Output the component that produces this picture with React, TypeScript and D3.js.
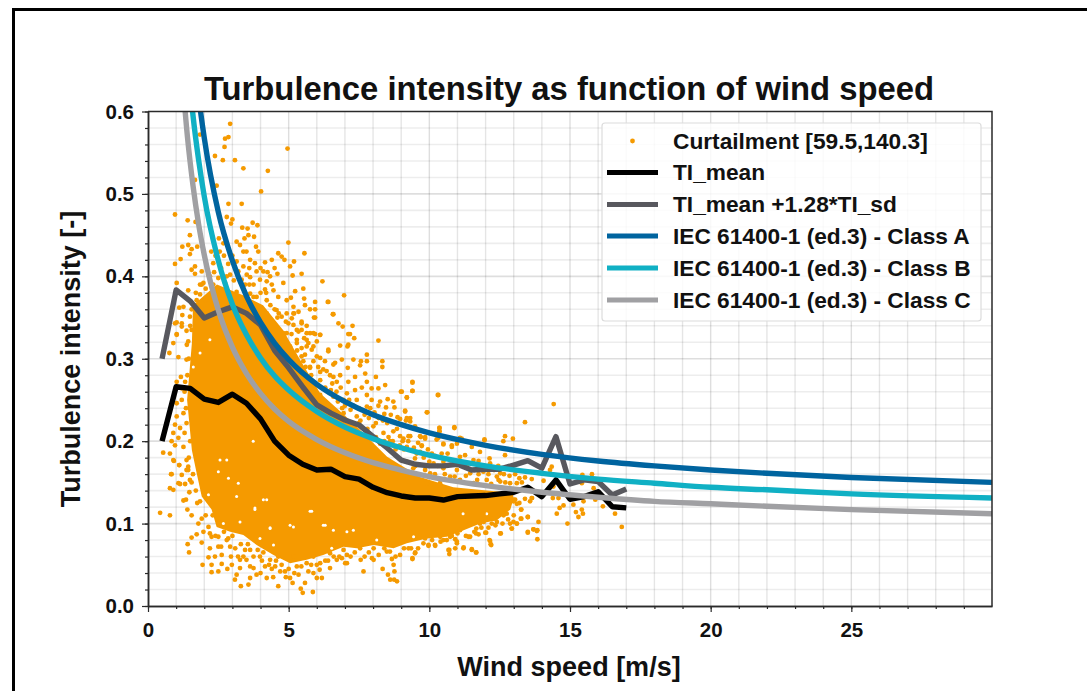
import React, { useEffect, useRef } from "react";
import * as d3 from "d3";

const xTicks = [0, 5, 10, 15, 20, 25];
const yTicks = [0, 0.1, 0.2, 0.3, 0.4, 0.5, 0.6];
const xMinor = d3.range(0, 30, 1);
const yMinor = d3.range(0, 31).map((i) => i / 50);

const legendLabels = [
  "Curtailment [59.5,140.3]",
  "TI_mean",
  "TI_mean +1.28*TI_sd",
  "IEC 61400-1 (ed.3) - Class A",
  "IEC 61400-1 (ed.3) - Class B",
  "IEC 61400-1 (ed.3) - Class C",
];

const binSpeeds = [0.5,1,1.5,2,2.5,3,3.5,4,4.5,5,5.5,6,6.5,7,7.5,8,8.5,9,9.5,10,10.5,11,11.5,12,12.5,13,13.5,14,14.5,15,15.5,16,16.5,17];
const tiMean = [0.2,0.266,0.264,0.251,0.247,0.257,0.246,0.227,0.2,0.183,0.172,0.165,0.166,0.157,0.154,0.144,0.1375,0.1335,0.131,0.131,0.1286,0.1327,0.1335,0.134,0.136,0.138,0.144,0.1327,0.153,0.1295,0.1327,0.1387,0.1205,0.119];
const tiUpper = [0.3,0.3835,0.37,0.3495,0.357,0.363,0.355,0.341,0.31,0.289,0.266,0.244,0.234,0.2257,0.2197,0.2055,0.1917,0.177,0.172,0.17,0.17,0.172,0.165,0.166,0.166,0.171,0.1764,0.1673,0.2055,0.148,0.153,0.151,0.1347,0.142];

const iecASpeeds = [1.6,1.8,2,2.5,3,3.5,4,4.5,5,6,7,8,9,10,12,14,16,18,20,22,25,30];
const iecA = [0.68,0.618,0.568,0.478,0.419,0.376,0.344,0.319,0.299,0.269,0.248,0.232,0.22,0.21,0.195,0.184,0.176,0.17,0.165,0.161,0.156,0.15];
const iecBSpeeds = [1.4,1.6,1.8,2,2.5,3,3.5,4,4.5,5,6,7,8,9,10,12,14,16,18,20,22,25,30];
const iecB = [0.665,0.595,0.541,0.497,0.419,0.366,0.329,0.301,0.279,0.262,0.236,0.217,0.203,0.192,0.183,0.17,0.161,0.154,0.149,0.144,0.141,0.136,0.131];
const iecCSpeeds = [1.2,1.4,1.6,1.8,2,2.5,3,3.5,4,4.5,5,6,7,8,9,10,12,14,16,18,20,22,25,30];
const iecC = [0.65,0.57,0.51,0.463,0.426,0.359,0.314,0.282,0.258,0.239,0.224,0.202,0.186,0.174,0.165,0.157,0.146,0.138,0.132,0.127,0.124,0.121,0.117,0.112];

// The saturated heart of the scatter, where individual dots can no longer be read.
const denseCore: [number, number][] = [
  [1.56,0.319],[1.6,0.365],[2.45,0.39],[3.38,0.377],[4.09,0.365],[4.8,0.335],[5.4,0.299],[6.12,0.258],[7.29,0.222],[8.5,0.181],[9.67,0.1566],[10.85,0.144],[12.98,0.137],
  [12.98,0.129],[12.88,0.117],[12.4,0.104],[11.81,0.1],[11.22,0.092],[10.62,0.084],[9.91,0.082],[9.2,0.076],[8.73,0.07],[8.02,0.074],[7.42,0.07],[6.95,0.072],[6.23,0.062],[5.64,0.056],[5.05,0.052],[4.46,0.062],[3.86,0.074],[3.39,0.086],[2.92,0.09],[2.44,0.096],[2.26,0.117],[1.91,0.133],[1.73,0.161],[1.56,0.189],[1.39,0.25],
];

// Small gaps left between dots inside the saturated heart.
const coreGaps: [number, number][] = [
  [4.34,0.094],[3.8,0.119],[2.56,0.177],[2.8,0.177],[3.74,0.2],[3.15,0.133],[4.1,0.129],[5.17,0.096],[6.23,0.098],[6.59,0.092],[5.82,0.115],[7.3,0.092],[8.13,0.08],[9.44,0.084],[11.2,0.112],[12.04,0.112],[1.85,0.307],[2.2,0.323],[1.61,0.29],
  [4.34,0.095],[2.68,0.1],[3.27,0.102],[3.8,0.117],[2.15,0.135],[4.46,0.074],[3.98,0.082],[3.21,0.149],[2.86,0.155],[2.5,0.163],[4.22,0.129],[5.05,0.098],[5.76,0.115],[6.3,0.098],[7.07,0.09],[6.53,0.07],
];

// Dots read individually from the fringe of the cloud.
const upperFringe: [number, number][] = [
  [2.92,0.585],[1.85,0.572],[2.86,0.569],[2.74,0.567],[2.72,0.557],[4.96,0.555],[2.38,0.546],[2.66,0.541],[3.09,0.541],[3.39,0.531],[4.26,0.528],[1.67,0.517],[2.44,0.51],[4.02,0.503],
  [0.96,0.475],[1.41,0.468],[2.86,0.488],[3.33,0.488],[1.69,0.466],[2.8,0.472],[3.0,0.469],[2.95,0.464],[3.72,0.465],[3.89,0.462],[3.35,0.459],[3.54,0.458],[1.49,0.45],[3.57,0.45],[3.43,0.446],[3.77,0.448],[2.52,0.446],[2.68,0.44],[3.15,0.442],[3.27,0.438],[4.99,0.441],[1.22,0.436],[1.43,0.438],[1.55,0.433],[1.49,0.427],[1.75,0.436],[3.39,0.43],[3.84,0.436],[3.92,0.43],[4.63,0.428],[4.75,0.424],[5.56,0.428],[4.85,0.42],[5.19,0.418],[4.16,0.417],[1.16,0.421],[0.96,0.415],[5.05,0.412],[5.46,0.403],[5.14,0.401],[4.6,0.403],[4.1,0.406],[4.34,0.4],[6.2,0.394],[1.02,0.392],[1.67,0.412],[1.55,0.408],[1.91,0.406],[1.67,0.403],[2.32,0.416],[3.15,0.418],[3.63,0.42],[3.8,0.416],[3.39,0.412],[3.86,0.406],[3.63,0.399],[4.22,0.394],[4.81,0.392],[4.46,0.383],[5.23,0.382],[5.52,0.385],[5.08,0.374],[5.55,0.373],[5.58,0.365],[5.94,0.369],[6.41,0.369],[6.97,0.377],[5.76,0.36],[5.94,0.36],[6.57,0.354],[5.94,0.35],[5.19,0.355],[5.35,0.357],[5.11,0.349],[6.77,0.343],[6.92,0.339],[7.12,0.33],[5.64,0.34],[6.12,0.329],[5.94,0.33],[6.83,0.316],[7.12,0.317],[1.43,0.383],[1.91,0.39],[1.26,0.363],[1.11,0.362],[1.22,0.353],[1.2,0.339],[1.02,0.344],[1.37,0.334],[1.55,0.335],[1.02,0.329],[0.9,0.319],[1.38,0.317],
  [2.5,0.398],[2.74,0.392],[2.92,0.402],[3.21,0.406],[3.33,0.396],[3.51,0.402],[3.75,0.39],[3.98,0.396],[4.16,0.384],[4.4,0.39],[4.63,0.375],[4.93,0.371],[5.17,0.363],[4.57,0.359],[4.75,0.351],[4.22,0.371],[3.86,0.375],[3.63,0.379],[3.15,0.381],[2.8,0.379],[2.62,0.383],[2.32,0.39],[2.14,0.402],[1.97,0.392],[1.85,0.378],[1.73,0.371],[2.03,0.371],[4.93,0.355],[5.17,0.341],[5.35,0.333],[4.93,0.331],[5.64,0.323],[5.29,0.319],[5.88,0.315],[4.22,0.355],[3.63,0.363],[3.09,0.371],
  [5.17,0.355],[5.46,0.343],[5.29,0.335],[5.76,0.331],[4.99,0.343],[4.81,0.331],[5.29,0.323],[5.05,0.315],[5.64,0.315],[5.46,0.303],[6.0,0.303],[6.23,0.287],[6.59,0.278],[5.76,0.29],[6.12,0.274],
  [1.5,0.34],[1.55,0.36],[1.7,0.38],[1.85,0.39],[2.05,0.385],[2.2,0.4],[2.35,0.405],[2.6,0.41],[2.8,0.4],[2.7,0.425],[3.0,0.425],[2.85,0.415],[3.05,0.395],[3.45,0.39],[3.6,0.39],[3.75,0.375],[4.0,0.38],[4.2,0.38],[4.35,0.365],[4.5,0.36],[4.65,0.355],[2.25,0.43],[2.4,0.425],[2.55,0.43],[3.5,0.43],[3.6,0.41],[4.0,0.41],[4.25,0.405],[4.5,0.41],[4.4,0.42],
];

const middleFringe: [number, number][] = [
  [6.39,0.369],[5.9,0.35],[6.59,0.354],[7.27,0.34],[7.18,0.33],[7.33,0.325],[8.19,0.322],[7.09,0.315],[7.78,0.305],[6.41,0.309],[7.3,0.299],[6.89,0.299],[7.57,0.297],[7.78,0.297],[8.33,0.297],[8.33,0.29],[7.54,0.292],[7.1,0.289],[6.59,0.293],[7.72,0.282],[8.1,0.278],[9.4,0.272],[8.43,0.268],[7.36,0.278],[7.78,0.272],[7.95,0.264],[8.19,0.264],[8.99,0.26],[9.4,0.261],[7.36,0.262],[7.07,0.258],[9.2,0.253],[10.32,0.256],[7.78,0.256],[7.95,0.25],[8.52,0.251],[8.72,0.248],[8.25,0.248],[8.19,0.243],[8.46,0.241],[8.76,0.241],[9.14,0.236],[9.91,0.235],[8.63,0.232],[8.87,0.229],[8.4,0.233],[9.17,0.225],[9.32,0.228],[10.89,0.217],[10.36,0.216],[10.36,0.212],[9.49,0.218],[9.02,0.22],[9.67,0.206],[9.85,0.205],[8.72,0.212],[8.96,0.206],[9.32,0.206],[11.09,0.204],[11.96,0.202],[9.73,0.195],[10.32,0.204],[10.8,0.195],[10.5,0.197],
  [5.46,0.345],[5.46,0.335],[5.64,0.331],[6.12,0.329],[5.88,0.331],[5.7,0.319],[5.46,0.313],[6.0,0.321],[5.82,0.311],[6.41,0.311],[5.58,0.305],[6.12,0.301],[6.29,0.297],[5.88,0.297],[6.65,0.295],[5.76,0.289],[6.12,0.284],[6.47,0.28],[6.83,0.28],[7.12,0.272],[6.71,0.272],[5.52,0.297],
  [7.78,0.242],[7.42,0.25],[6.95,0.25],[6.59,0.254],[6.12,0.256],[8.01,0.218],[8.37,0.21],[8.6,0.2],[7.42,0.23],[6.95,0.234],[6.59,0.238],[8.25,0.197],
  [4.6,0.35],[4.9,0.345],[5.1,0.33],[5.3,0.31],[5.55,0.325],[5.6,0.29],[5.8,0.28],[5.95,0.27],[6.05,0.29],[6.3,0.265],[6.35,0.285],[6.5,0.262],[6.55,0.27],[6.7,0.26],[6.75,0.248],[6.85,0.265],[6.9,0.24],[7.0,0.243],[7.15,0.25],[7.2,0.238],[7.3,0.243],[7.5,0.24],[7.55,0.225],[7.6,0.265],[7.7,0.232],[7.85,0.228],[7.9,0.24],[8.05,0.235],[8.1,0.222],[8.2,0.228],[8.35,0.225],[8.5,0.222],[8.55,0.205],[8.7,0.2],[8.85,0.215],[8.95,0.195],[9.05,0.2],[9.1,0.19],[9.25,0.2],[9.45,0.192],[9.55,0.185],[9.6,0.198],[9.8,0.18],[9.95,0.19],[10.0,0.175],[10.2,0.182],[10.3,0.17],[10.5,0.175],[10.65,0.185],[10.9,0.172],[11.2,0.17],[11.35,0.172],[11.6,0.165],[11.75,0.16],[12.1,0.16],[12.3,0.165],[12.45,0.17],[12.65,0.16],[12.85,0.158],[13.05,0.16],[13.2,0.155],[11.3,0.158],[11.7,0.153],[12.2,0.148],[12.7,0.15],[9.2,0.175],[9.5,0.17],[9.85,0.165],[10.2,0.16],[10.55,0.16],[10.9,0.157],[8.8,0.19],[8.4,0.2],[8.1,0.205],[7.8,0.215],[7.5,0.222],
];

const rightFringe: [number, number][] = [
  [9.4,0.271],[9.4,0.261],[9.02,0.26],[9.2,0.253],[10.3,0.256],[9.14,0.237],[9.93,0.235],[8.96,0.227],[9.32,0.224],[9.2,0.228],[13.4,0.223],[14.42,0.245],[10.36,0.216],[10.89,0.216],[9.7,0.205],[9.85,0.203],[9.26,0.206],[9.08,0.203],[10.26,0.202],[10.36,0.212],[12.69,0.206],[12.97,0.203],[12.63,0.2],[11.96,0.201],[11.15,0.203],[10.5,0.196],[9.73,0.194],[10.8,0.193],[10.98,0.197],[11.51,0.193],[11.8,0.187],[12.69,0.183],[12.14,0.179],[11.75,0.176],[9.49,0.179],[10.09,0.185],[10.44,0.185],[11.27,0.183],
  [12.4,0.157],[12.46,0.153],[13.4,0.156],[13.64,0.154],[14.06,0.152],[14.35,0.169],[14.29,0.165],[15.44,0.159],[15.78,0.16],[15.84,0.143],[15.42,0.149],[14.41,0.145],[13.11,0.149],[13.29,0.15],[12.87,0.149],[12.52,0.151],[12.99,0.129],[13.11,0.124],[13.64,0.131],[13.58,0.127],[13.94,0.135],[14.59,0.131],[14.39,0.131],[15.12,0.123],[14.77,0.122],[14.63,0.119],[14.53,0.112],[15.21,0.114],[15.42,0.117],[15.46,0.112],[15.3,0.108],[14.91,0.1],[16.17,0.121],[16.6,0.112],[16.84,0.096],[15.48,0.127],[15.9,0.129],[13.26,0.117],[13.5,0.108],[13.25,0.106],[13.88,0.102],[12.93,0.094],[13.11,0.1],[13.7,0.093],[13.84,0.092],[13.5,0.089],[13.84,0.081],[12.52,0.088],[12.02,0.089],[11.66,0.088],[12.14,0.08],[12.18,0.075],[11.51,0.068],[11.66,0.065],[11.21,0.07],[10.98,0.078],[10.68,0.068],[9.49,0.064],[9.4,0.058],[9.97,0.074],[10.2,0.074],[10.5,0.08],[11.8,0.1],[11.92,0.112],[12.52,0.112],[12.75,0.112],[12.4,0.102],[11.45,0.1],[11.09,0.092],[10.74,0.084],[12.87,0.1],[11.39,0.084],
  [9.2,0.193],[9.67,0.187],[10.15,0.173],[10.74,0.177],[11.09,0.181],[11.57,0.177],[12.16,0.173],[10.5,0.167],[10.98,0.165],[11.45,0.161],[11.92,0.163],[12.52,0.161],[11.09,0.153],[11.57,0.149],[12.04,0.153],[10.03,0.161],[10.74,0.157],[10.38,0.149],[9.43,0.167],[9.91,0.149],
];

const lowerFringe: [number, number][] = [
  [0.43,0.113],[0.78,0.11],[0.84,0.16],[1.11,0.171],[0.92,0.176],[1.14,0.148],[1.32,0.148],[0.78,0.143],[0.9,0.141],[1.47,0.138],[1.55,0.15],[1.2,0.159],[1.37,0.165],[1.43,0.169],[1.26,0.128],[1.35,0.129],[1.85,0.127],[1.4,0.117],[1.55,0.11],[1.91,0.106],[1.79,0.1],[1.73,0.087],[1.55,0.083],[1.41,0.075],[1.46,0.065],[1.91,0.077],[1.97,0.09],[2.15,0.096],[2.26,0.084],[2.2,0.07],[2.5,0.072],[2.15,0.059],[2.38,0.06],[2.62,0.062],[1.94,0.05],[2.26,0.05],[2.26,0.041],[2.5,0.042],[2.62,0.051],[2.82,0.045],[2.98,0.05],[3.27,0.056],[3.39,0.06],[2.92,0.072],[3.27,0.046],[3.15,0.038],[3.09,0.032],[3.3,0.024],[3.57,0.026],[3.63,0.034],[3.86,0.038],[4.22,0.034],[4.63,0.024],[5.05,0.034],[5.14,0.028],[5.43,0.021],[5.5,0.016],[5.86,0.017],[5.58,0.028],[6.0,0.034],[6.18,0.034],[5.88,0.04],[6.47,0.046],[4.52,0.048],[4.87,0.042],[5.29,0.048],[4.16,0.048],[3.63,0.048],[5.64,0.052],[6.12,0.052],[6.71,0.056],[7.07,0.052],[4.63,0.06],[3.98,0.06],[3.63,0.068],[5.17,0.06],[5.88,0.06],[6.47,0.064],[6.95,0.068],[4.34,0.056],[2.5,0.084],[2.8,0.08],[2.2,0.088],
  [7.01,0.052],[7.56,0.056],[7.96,0.058],[8.02,0.056],[8.67,0.057],[8.73,0.05],[7.66,0.042],[8.34,0.045],[8.76,0.042],[8.53,0.038],[8.61,0.032],[8.85,0.03],[8.75,0.032],[9.4,0.057],[9.5,0.065],[9.97,0.073],[10.21,0.073],[10.71,0.063],[10.71,0.068],[10.92,0.07],[11.22,0.071],[11.51,0.069],[11.67,0.065],[10.98,0.076],[10.92,0.081],[12.16,0.079],[12.2,0.074],[12.54,0.088],[11.75,0.087],[11.99,0.089],[11.67,0.094],[12.93,0.094],[13.5,0.09],[13.7,0.093],[13.82,0.091],[12.99,0.102],[13.11,0.1],[13.27,0.106],[13.5,0.108],[13.27,0.117],[12.99,0.127],[13.05,0.129],[13.65,0.131],[12.22,0.1],[11.93,0.102],[12.28,0.106],[12.64,0.11],[11.45,0.084],[10.39,0.084],[10.62,0.08],[9.79,0.076],[8.96,0.062],[8.49,0.066],[8.02,0.07],[7.54,0.07],[7.07,0.062],[6.89,0.058],[9.26,0.07],
  [0.76,0.307],[1.08,0.302],[1.02,0.33],[1.43,0.321],[1.17,0.278],[1.02,0.272],[1.32,0.272],[1.02,0.246],[1.2,0.25],[1.02,0.23],[1.26,0.234],[0.96,0.22],[1.14,0.216],[0.9,0.21],[0.84,0.2],[0.96,0.195],[0.54,0.186],[0.78,0.185],[0.9,0.177],[1.37,0.222],[1.08,0.204],[1.26,0.193],[1.11,0.171],[1.37,0.177],[0.82,0.16],[1.08,0.149],[1.43,0.165],[1.49,0.153],[1.37,0.299],[1.2,0.264],[0.96,0.343],[1.2,0.343],[1.49,0.351],
  [2.3,0.11],[2.5,0.1],[2.4,0.085],[2.7,0.09],[2.85,0.082],[3.0,0.085],[3.1,0.07],[3.3,0.075],[3.45,0.068],[3.55,0.075],[3.75,0.06],[3.9,0.068],[4.05,0.055],[4.1,0.065],[4.3,0.05],[4.4,0.045],[4.55,0.055],[4.75,0.05],[4.9,0.035],[5.0,0.045],[5.2,0.04],[5.35,0.038],[5.45,0.048],[5.7,0.042],[5.8,0.05],[6.0,0.05],[6.1,0.044],[6.3,0.055],[6.4,0.055],[6.6,0.06],[6.8,0.06],[7.2,0.06],[7.35,0.065],[7.7,0.06],[7.85,0.065],[8.2,0.062],[8.4,0.07],[8.6,0.066],[8.8,0.06],[9.1,0.07],[9.35,0.07],[9.6,0.07],[9.85,0.082],[10.1,0.08],[10.4,0.078],[10.8,0.085],[11.0,0.088],[11.3,0.085],[11.6,0.09],[11.85,0.095],[12.1,0.095],[12.35,0.098],[12.6,0.1],[12.8,0.105],[13.0,0.11],[13.2,0.125],[13.4,0.13],[3.2,0.06],[2.6,0.072],[2.95,0.06],[3.5,0.056],[3.75,0.046],[4.0,0.04],[4.45,0.035],[4.7,0.042],[2.05,0.11],[1.75,0.125],[1.7,0.14],[1.6,0.16],[1.45,0.18],[1.5,0.2],[1.3,0.21],[1.35,0.24],[1.3,0.26],[1.4,0.28],[1.45,0.3],
];

const COLORS = { dots: "#f59a00", mean: "#000000", upper: "#58585e", a: "#00649f", b: "#10b0c4", c: "#a0a0a3" };
const FONT = "'Liberation Sans', Arial, sans-serif";

export default function App() {
  const ref = useRef<SVGSVGElement>(null);
  useEffect(() => {
    const svg = d3.select(ref.current!);
    svg.selectAll("*").remove();
    const m = { l: 148, r: 992, t: 111.5, b: 606 };
    const x = d3.scaleLinear().domain([0, 30]).range([m.l, m.r]);
    const y = d3.scaleLinear().domain([0, 0.6]).range([m.b, m.t]);

    svg.append("path").attr("d", "M13.5,691V9.5H1087").attr("fill", "none").attr("stroke", "#000").attr("stroke-width", 3);

    const clip = svg.append("defs").append("clipPath").attr("id", "plot");
    clip.append("rect").attr("x", m.l).attr("y", m.t).attr("width", m.r - m.l).attr("height", m.b - m.t);

    const grid = svg.append("g");
    xMinor.slice(1).forEach((v) => {
      grid.append("line").attr("x1", x(v)).attr("x2", x(v)).attr("y1", m.t).attr("y2", m.b)
        .attr("stroke", "#000").attr("stroke-opacity", v % 5 === 0 ? 0.13 : 0.1).attr("stroke-width", 1.4);
    });
    yMinor.slice(1, -1).forEach((v) => {
      grid.append("line").attr("x1", m.l).attr("x2", m.r).attr("y1", y(v)).attr("y2", y(v))
        .attr("stroke", "#000").attr("stroke-opacity", Math.round(v * 50) % 5 === 0 ? 0.13 : 0.07).attr("stroke-width", 1.6);
    });

    const plot = svg.append("g").attr("clip-path", "url(#plot)");
    const outline = d3.line<[number, number]>().x((d) => x(d[0])).y((d) => y(d[1])).curve(d3.curveLinearClosed);
    plot.append("path").attr("d", outline(denseCore)!).attr("fill", COLORS.dots);
    plot.append("g").selectAll("circle").data(coreGaps).join("circle")
      .attr("cx", (d) => x(d[0])).attr("cy", (d) => y(d[1])).attr("r", 1.5).attr("fill", "#fff");
    const dots = [...upperFringe, ...middleFringe, ...rightFringe, ...lowerFringe];
    plot.append("g").selectAll("circle").data(dots).join("circle")
      .attr("cx", (d) => x(d[0])).attr("cy", (d) => y(d[1])).attr("r", 2.4).attr("fill", COLORS.dots);

    const drawLine = (xs: number[], ys: number[], color: string, curve: d3.CurveFactory) => {
      const l = d3.line<number>().x((_, i) => x(xs[i])).y((d) => y(d)).curve(curve);
      plot.append("path").attr("d", l(ys)!).attr("fill", "none").attr("stroke", color).attr("stroke-width", 5.4).attr("stroke-linejoin", "round");
    };
    drawLine(binSpeeds, tiMean, COLORS.mean, d3.curveLinear);
    drawLine(binSpeeds, tiUpper, COLORS.upper, d3.curveLinear);
    drawLine(iecASpeeds, iecA, COLORS.a, d3.curveMonotoneX);
    drawLine(iecBSpeeds, iecB, COLORS.b, d3.curveMonotoneX);
    drawLine(iecCSpeeds, iecC, COLORS.c, d3.curveMonotoneX);

    const styleAxis = (g: d3.Selection<SVGGElement, unknown, null, undefined>) => {
      g.selectAll("path").attr("stroke", "#2a2a2a").attr("stroke-width", 1.5);
      g.selectAll("line").attr("stroke", "#2a2a2a").attr("stroke-width", 1.2);
      g.selectAll("text").attr("font-family", FONT).attr("font-weight", 700).attr("font-size", 20.5).attr("fill", "#111");
    };
    const xMinorG = svg.append("g").attr("transform", `translate(0,${m.b})`)
      .call(d3.axisBottom(x).tickValues(xMinor).tickSize(3).tickSizeOuter(0).tickFormat(() => ""));
    styleAxis(xMinorG as any);
    const yMinorG = svg.append("g").attr("transform", `translate(${m.l},0)`)
      .call(d3.axisLeft(y).tickValues(yMinor).tickSize(3).tickSizeOuter(0).tickFormat(() => ""));
    styleAxis(yMinorG as any);
    const xAxis = svg.append("g").attr("transform", `translate(0,${m.b})`)
      .call(d3.axisBottom(x).tickValues(xTicks).tickSize(6).tickPadding(10).tickSizeOuter(0).tickFormat(d3.format("d") as any));
    styleAxis(xAxis as any);
    const yAxis = svg.append("g").attr("transform", `translate(${m.l},0)`)
      .call(d3.axisLeft(y).tickValues(yTicks).tickSize(6).tickPadding(8).tickSizeOuter(0).tickFormat(d3.format(".1f") as any));
    styleAxis(yAxis as any);

    svg.append("path").attr("d", `M${m.l},${m.t}H${m.r}V${m.b}`).attr("fill", "none").attr("stroke", "#2a2a2a").attr("stroke-width", 1.5);

    const text = (s: string, tx: number, ty: number, size: number, anchor = "middle", rot?: number) => {
      const t = svg.append("text").text(s).attr("x", tx).attr("y", ty).attr("font-family", FONT).attr("font-weight", 700)
        .attr("font-size", size).attr("fill", "#111").attr("text-anchor", anchor);
      if (rot !== undefined) t.attr("transform", `rotate(${rot},${tx},${ty})`);
      return t;
    };
    text("Turbulence intensity as function of wind speed", 569, 100, 32.8);
    text("Wind speed [m/s]", 569, 676, 27);
    text("Turbulence intensity [-]", 80, 359, 27, "middle", -90);

    const lg = svg.append("g");
    lg.append("rect").attr("x", 602).attr("y", 123).attr("width", 379).attr("height", 198).attr("rx", 3)
      .attr("fill", "#fff").attr("fill-opacity", 0.82).attr("stroke", "#dcdcdc").attr("stroke-width", 1.2);
    const rows = [141, 172.5, 204.5, 236, 268, 300];
    const rowColors = [COLORS.dots, COLORS.mean, COLORS.upper, COLORS.a, COLORS.b, COLORS.c];
    legendLabels.forEach((label, i) => {
      if (i === 0) lg.append("circle").attr("cx", 632.5).attr("cy", rows[0]).attr("r", 2.4).attr("fill", rowColors[0]);
      else lg.append("line").attr("x1", 607).attr("x2", 658).attr("y1", rows[i]).attr("y2", rows[i]).attr("stroke", rowColors[i]).attr("stroke-width", 5);
      text(label, 673, rows[i] + 7.5, 22.7, "start");
    });
  }, []);
  return <svg ref={ref} width={1087} height={691} style={{ position: "absolute", left: 0, top: 0, background: "#fff" }} />;
}
